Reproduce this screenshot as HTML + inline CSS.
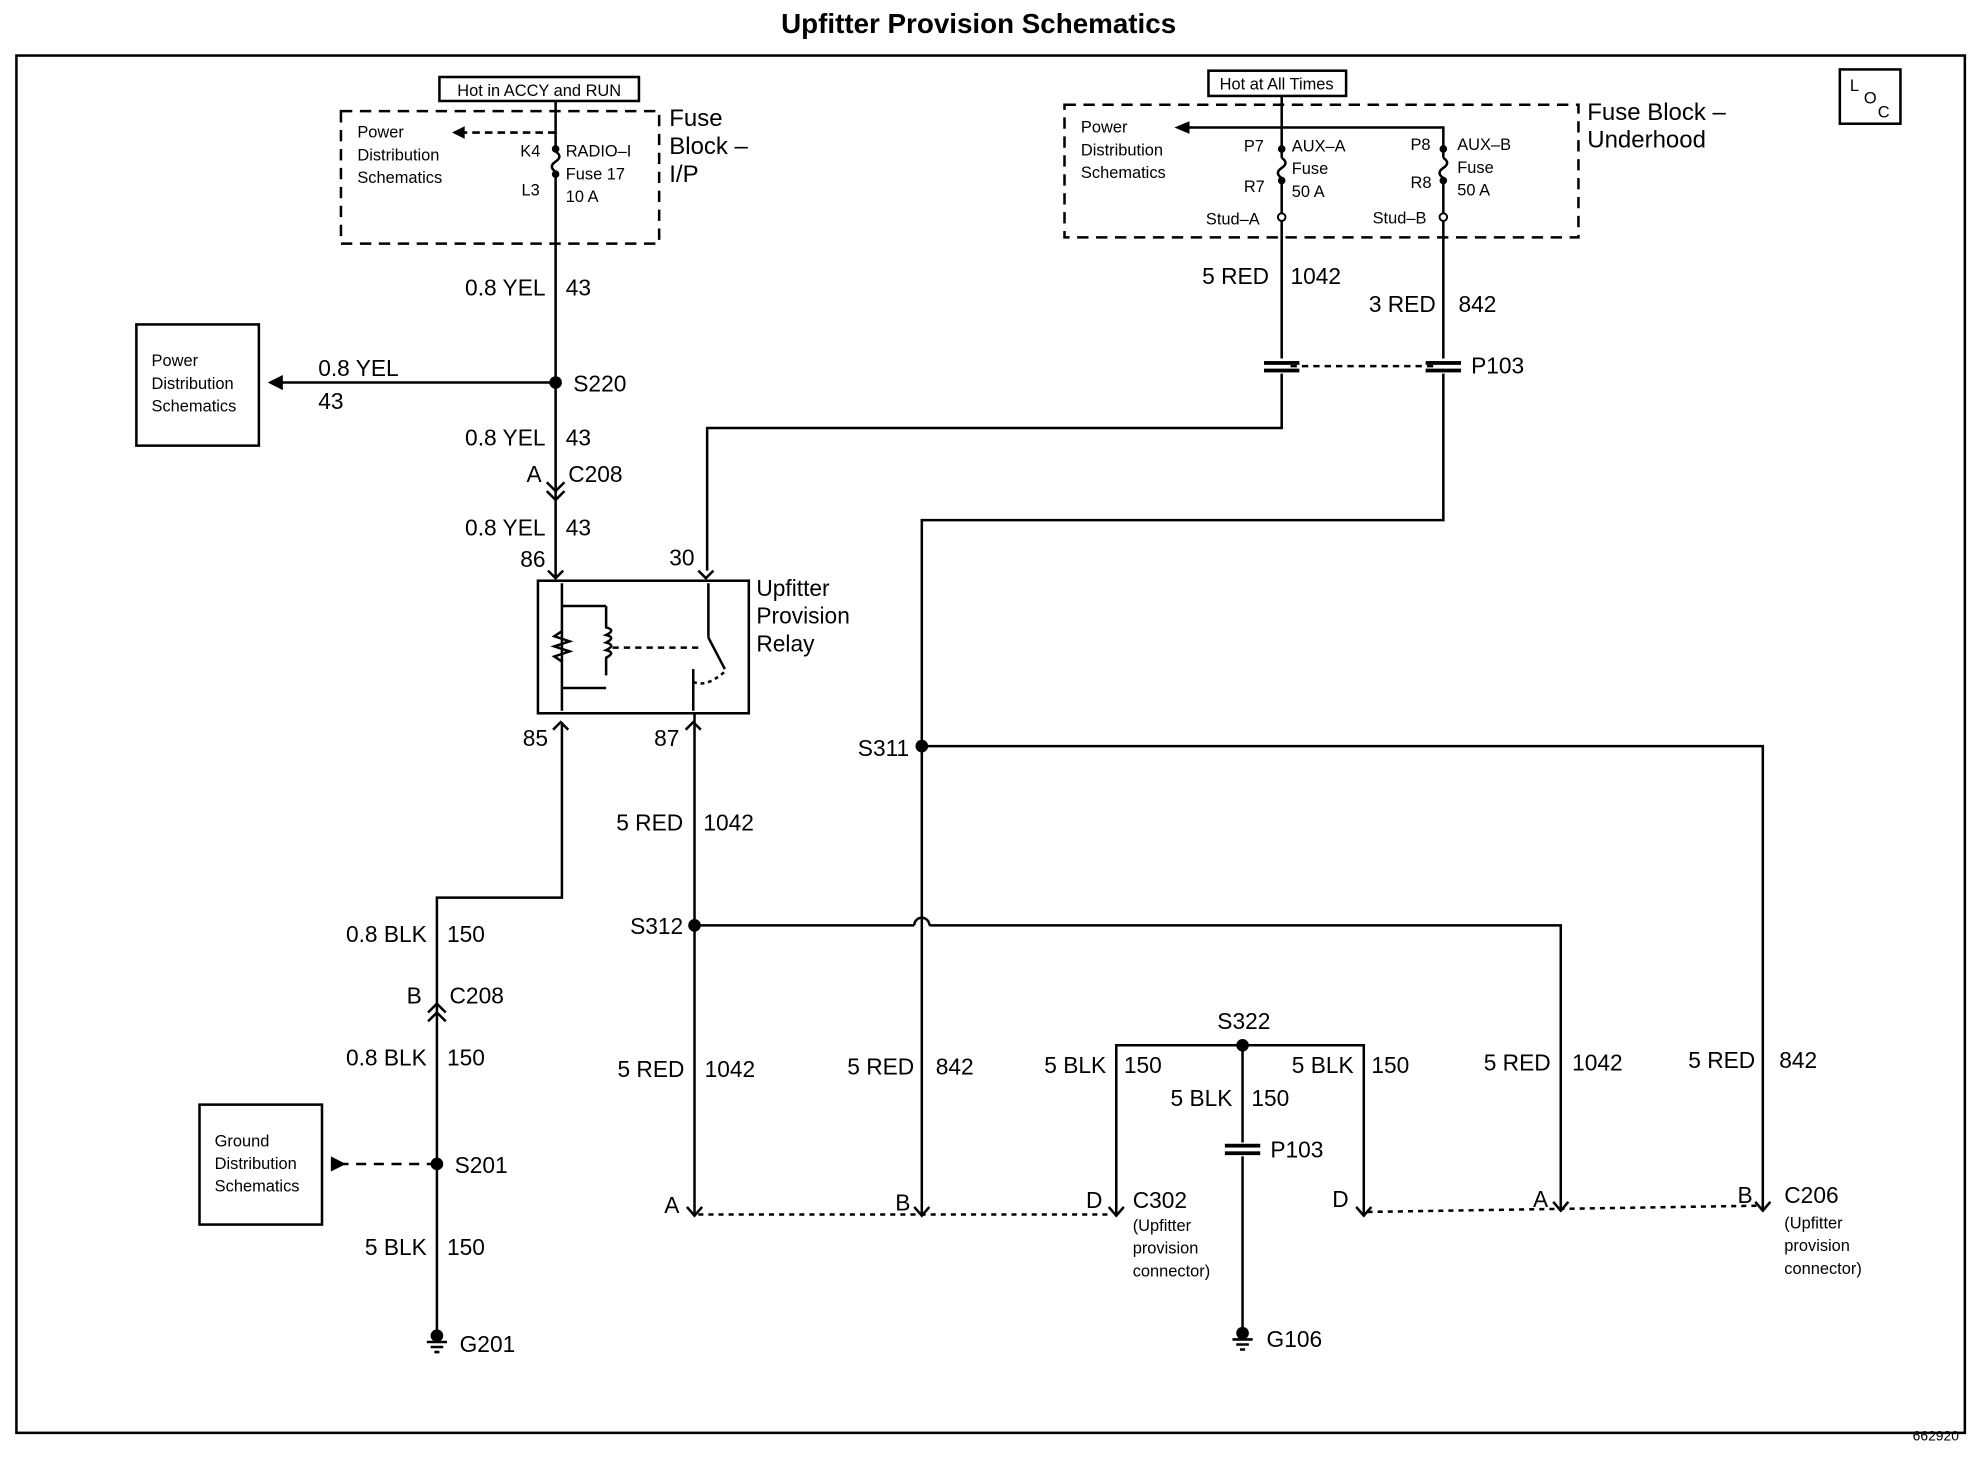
<!DOCTYPE html>
<html><head><meta charset="utf-8"><style>
html,body{margin:0;padding:0;background:#fff;}
svg{display:block;}
text{font-family:"Liberation Sans",sans-serif;fill:#000;}
.l{font-size:18px;}
.s{font-size:13px;}
.m{font-size:19px;}
</style></head><body>
<svg width="1980" height="1472" viewBox="0 0 1568 1166" preserveAspectRatio="none" xmlns="http://www.w3.org/2000/svg">
<g stroke="#000" stroke-width="2" fill="none">
<rect x="13" y="44" width="1543" height="1091"/>
<rect x="1457" y="55" width="48" height="43"/>
<!-- left fuse block -->
<rect x="270" y="88" width="252" height="105" stroke-dasharray="9,6"/>
<rect x="348" y="61" width="158" height="19"/>
<line x1="440" y1="80" x2="440" y2="120"/>
<path d="M440,120 q6,4 0,8 q-6,4 0,8"/>
<line x1="440" y1="136" x2="440" y2="458"/>
<line x1="440" y1="105" x2="366" y2="105" stroke-dasharray="6,4"/>
<line x1="440" y1="303" x2="220" y2="303"/>
<rect x="108" y="257" width="97" height="96"/>
<path d="M433,382 l7,7 l7,-7 M433,389 l7,7 l7,-7" />
<!-- relay -->
<rect x="426" y="460" width="167" height="105"/>
<path d="M434,452 l6,6 l6,-6 M553,452 l6,6 l6,-6 M438,578 l6,-6 l6,6 M543,578 l6,-6 l6,6" />
<line x1="445" y1="462" x2="445" y2="563"/>
<line x1="445" y1="480" x2="480" y2="480"/><line x1="445" y1="545" x2="480" y2="545"/>
<path d="M480,480 v17 q8,2 0,6 q8,2 0,6 q8,2 0,6 q8,2 0,6 v14"/>
<path d="M445,500 l-6,4 l12,4 l-12,4 l12,4 l-12,4 l6,4" />
<line x1="485" y1="513" x2="555" y2="513" stroke-dasharray="5,4"/>
<line x1="561" y1="462" x2="561" y2="505"/>
<line x1="561" y1="505" x2="574" y2="530"/>
<line x1="549" y1="530" x2="549" y2="563"/>
<path d="M549,540 q10,5 25,-8" stroke-dasharray="3,3"/>
<!-- 85 wire -->
<polyline points="445,572 445,711 346,711 346,1055"/>
<path d="M339,802 l7,-7 l7,7 M339,809 l7,-7 l7,7"/>
<line x1="346" y1="922" x2="272" y2="922" stroke-dasharray="8,6"/>
<rect x="158" y="875" width="97" height="95"/>
<!-- 30 wire -->
<polyline points="560,452 560,339 1015,339 1015,296"/>
<!-- right fuse block -->
<rect x="843" y="83" width="407" height="105" stroke-dasharray="9,6"/>
<rect x="957" y="56" width="109" height="20"/>
<line x1="1015" y1="76" x2="1015" y2="125"/>
<line x1="1015" y1="101" x2="940" y2="101"/>
<polyline points="1015,101 1143,101 1143,125"/>
<path d="M1015,125 q6,4 0,8 q-6,4 0,8"/><path d="M1143,125 q6,4 0,8 q-6,4 0,8"/>
<line x1="1015" y1="141" x2="1015" y2="284"/>
<line x1="1143" y1="141" x2="1143" y2="284"/>
<line x1="1022" y1="290" x2="1136" y2="290" stroke-dasharray="5,4"/>
<polyline points="1143,296 1143,412 730,412 730,962"/>
<polyline points="730,591 1396,591 1396,958"/>
<line x1="550" y1="565" x2="550" y2="962"/>
<polyline points="550,733 724,733"/><path d="M724,733 a6,6 0 0 1 12,0"/>
<polyline points="736,733 1236,733 1236,958"/>
<!-- S322 -->
<polyline points="884,962 884,828 1080,828 1080,962"/>
<line x1="984" y1="828" x2="984" y2="905"/>
<line x1="984" y1="916" x2="984" y2="1055"/>
<!-- bottom dashed -->
<line x1="553" y1="962" x2="880" y2="962" stroke-dasharray="4,4"/>
<line x1="1083" y1="960" x2="1396" y2="955" stroke-dasharray="4,4"/>
<path d="M544,956 l6,7 l6,-7 M724,956 l6,7 l6,-7 M878,956 l6,7 l6,-7 M1074,956 l6,7 l6,-7 M1230,952 l6,7 l6,-7 M1390,952 l6,7 l6,-7"/>
<!-- grounds -->
<path d="M338,1063 h16 M341,1067 h10 M344,1071 h4 M976,1061 h16 M979,1065 h10 M982,1069 h4"/>
</g>
<g fill="#000">
<polygon points="358,105 368,100 368,110"/>
<polygon points="212,303 224,297 224,309"/>
<polygon points="930,101 942,96 942,106"/>
<polygon points="274,922 262,916 262,928"/>
<circle cx="440" cy="303" r="5"/><circle cx="346" cy="922" r="5"/>
<circle cx="730" cy="591" r="5"/><circle cx="550" cy="733" r="5"/><circle cx="984" cy="828" r="5"/>
<circle cx="440" cy="118" r="3"/><circle cx="440" cy="138" r="3"/>
<circle cx="1015" cy="118" r="3"/><circle cx="1015" cy="143" r="3"/>
<circle cx="1143" cy="118" r="3"/><circle cx="1143" cy="143" r="3"/>
<rect x="1001" y="286" width="28" height="3"/><rect x="1001" y="292" width="28" height="3"/>
<rect x="1129" y="286" width="28" height="3"/><rect x="1129" y="292" width="28" height="3"/>
<rect x="970" y="906" width="28" height="3"/><rect x="970" y="912" width="28" height="3"/>
<circle cx="346" cy="1058" r="5"/><circle cx="984" cy="1056" r="5"/>
</g>
<circle cx="1015" cy="172" r="3" fill="#fff" stroke="#000" stroke-width="1.5"/>
<circle cx="1143" cy="172" r="3" fill="#fff" stroke="#000" stroke-width="1.5"/>
<text x="775" y="26" text-anchor="middle" style="font-size:22px;font-weight:bold">Upfitter Provision Schematics</text>
<text x="1533" y="1141" class="s" text-anchor="middle" style="font-size:11px">662920</text>
<text x="1465" y="72" class="s">L</text><text x="1476" y="82" class="s">O</text><text x="1487" y="93" class="s">C</text>
<text x="427" y="76" class="s" text-anchor="middle">Hot in ACCY and RUN</text>
<text x="1011" y="71" class="s" text-anchor="middle">Hot at All Times</text>
<text x="283" y="109" class="s">Power</text><text x="283" y="127" class="s">Distribution</text><text x="283" y="145" class="s">Schematics</text>
<text x="412" y="124" class="s">K4</text><text x="413" y="155" class="s">L3</text>
<text x="448" y="124" class="s">RADIO–I</text><text x="448" y="142" class="s">Fuse 17</text><text x="448" y="160" class="s">10 A</text>
<text x="530" y="100" class="m">Fuse</text><text x="530" y="122" class="m">Block –</text><text x="530" y="144" class="m">I/P</text>
<text x="856" y="105" class="s">Power</text><text x="856" y="123" class="s">Distribution</text><text x="856" y="141" class="s">Schematics</text>
<text x="985" y="120" class="s">P7</text><text x="1023" y="120" class="s">AUX–A</text><text x="1023" y="138" class="s">Fuse</text><text x="1023" y="156" class="s">50 A</text><text x="985" y="152" class="s">R7</text>
<text x="1117" y="119" class="s">P8</text><text x="1154" y="119" class="s">AUX–B</text><text x="1154" y="137" class="s">Fuse</text><text x="1154" y="155" class="s">50 A</text><text x="1117" y="149" class="s">R8</text>
<text x="955" y="178" class="s">Stud–A</text><text x="1087" y="177" class="s">Stud–B</text>
<text x="1257" y="95" class="m">Fuse Block –</text><text x="1257" y="117" class="m">Underhood</text>
<text x="120" y="290" class="s">Power</text><text x="120" y="308" class="s">Distribution</text><text x="120" y="326" class="s">Schematics</text>
<text x="170" y="908" class="s">Ground</text><text x="170" y="926" class="s">Distribution</text><text x="170" y="944" class="s">Schematics</text>
<g class="l">
<text x="432" y="234" text-anchor="end">0.8 YEL</text><text x="448" y="234">43</text>
<text x="252" y="298">0.8 YEL</text><text x="252" y="324">43</text>
<text x="454" y="310">S220</text>
<text x="432" y="353" text-anchor="end">0.8 YEL</text><text x="448" y="353">43</text>
<text x="429" y="382" text-anchor="end">A</text><text x="450" y="382">C208</text>
<text x="432" y="424" text-anchor="end">0.8 YEL</text><text x="448" y="424">43</text>
<text x="432" y="449" text-anchor="end">86</text><text x="550" y="448" text-anchor="end">30</text>
<text x="599" y="472">Upfitter</text><text x="599" y="494">Provision</text><text x="599" y="516">Relay</text>
<text x="434" y="591" text-anchor="end">85</text><text x="538" y="591" text-anchor="end">87</text>
<text x="1005" y="225" text-anchor="end">5 RED</text><text x="1022" y="225">1042</text>
<text x="1137" y="247" text-anchor="end">3 RED</text><text x="1155" y="247">842</text>
<text x="1165" y="296">P103</text>
<text x="720" y="599" text-anchor="end">S311</text>
<text x="541" y="658" text-anchor="end">5 RED</text><text x="557" y="658">1042</text>
<text x="541" y="740" text-anchor="end">S312</text>
<text x="338" y="746" text-anchor="end">0.8 BLK</text><text x="354" y="746">150</text>
<text x="334" y="795" text-anchor="end">B</text><text x="356" y="795">C208</text>
<text x="338" y="844" text-anchor="end">0.8 BLK</text><text x="354" y="844">150</text>
<text x="360" y="929">S201</text>
<text x="338" y="994" text-anchor="end">5 BLK</text><text x="354" y="994">150</text>
<text x="364" y="1071">G201</text>
<text x="542" y="853" text-anchor="end">5 RED</text><text x="558" y="853">1042</text>
<text x="724" y="851" text-anchor="end">5 RED</text><text x="741" y="851">842</text>
<text x="876" y="850" text-anchor="end">5 BLK</text><text x="890" y="850">150</text>
<text x="1072" y="850" text-anchor="end">5 BLK</text><text x="1086" y="850">150</text>
<text x="976" y="876" text-anchor="end">5 BLK</text><text x="991" y="876">150</text>
<text x="964" y="815">S322</text>
<text x="1228" y="848" text-anchor="end">5 RED</text><text x="1245" y="848">1042</text>
<text x="1390" y="846" text-anchor="end">5 RED</text><text x="1409" y="846">842</text>
<text x="1006" y="917">P103</text><text x="1003" y="1067">G106</text>
<text x="526" y="961">A</text><text x="709" y="959">B</text><text x="860" y="957">D</text><text x="897" y="957">C302</text>
<text x="1055" y="956">D</text><text x="1214" y="956">A</text><text x="1376" y="953">B</text><text x="1413" y="953">C206</text>
</g>
<text x="897" y="975" class="s">(Upfitter</text><text x="897" y="993" class="s">provision</text><text x="897" y="1011" class="s">connector)</text>
<text x="1413" y="973" class="s">(Upfitter</text><text x="1413" y="991" class="s">provision</text><text x="1413" y="1009" class="s">connector)</text>
</svg>
</body></html>
